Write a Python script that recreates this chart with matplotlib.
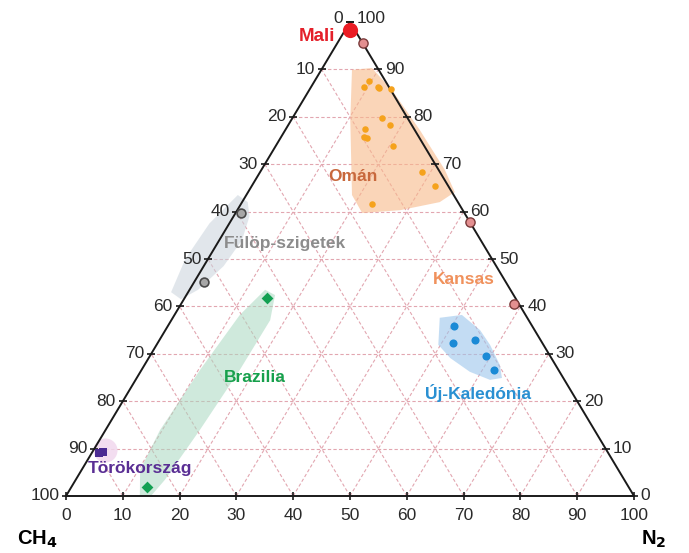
import numpy as np
import matplotlib
matplotlib.use("Agg")
import matplotlib.pyplot as plt
from matplotlib.patches import Polygon

plt.rcParams["font.family"] = ["Liberation Sans", "DejaVu Sans"]

# ternary data: n = N2 share (bottom axis), t = top component share (right axis)
mali_n = [0.8]
mali_t = [98.3]

kansas_n = [4.5, 42.2, 58.6]
kansas_t = [95.5, 57.8, 40.5]

fulop_n = [0.9, 1.8]
fulop_t = [59.7, 45.1]

brazil_n = [14.5, 13.3]
brazil_t = [41.8, 1.9]

turkey_n = [1.9, 1.2]
turkey_t = [9.3, 9.1]

oman_n = [9.6, 9.4, 11.8, 12.1, 14.3, 15.7, 14.0, 17.9, 14.6, 15.2, 20.6, 28.4, 32.3, 23.1]
oman_t = [87.6, 86.2, 86.2, 86.1, 85.8, 79.8, 77.4, 78.3, 75.7, 75.5, 73.8, 68.4, 65.5, 61.6]

newcal_n = [50.4, 52.0, 55.6, 59.2, 62.1]
newcal_t = [35.9, 32.3, 32.9, 29.5, 26.6]

# shaded field outlines
oman_area_n = [5.4, 8.7, 14.5, 23.7, 32.3, 36.4, 34.8, 28.7, 22.3, 18.6, 10.4]
oman_area_t = [89.9, 90.3, 85.7, 77.2, 68.8, 64.1, 62.0, 60.3, 59.7, 63.5, 79.3]
fulop_area_n = [-1.5, 1.0, 2.8, 4.0, 3.5, 1.5, -0.5, -3.0, -4.0, -3.5]
fulop_area_t = [63.5, 62.0, 59.0, 54.0, 48.5, 43.5, 41.5, 43.0, 50.0, 57.5]
brazil_area_n = [13.3, 15.6, 17.4, 17.3, 16.6, 15.7, 15.0, 12.9, 10.3, 9.6, 10.3, 11.5]
brazil_area_t = [43.5, 42.4, 37.1, 26.6, 13.9, 3.4, 0.2, 0.2, 5.5, 13.9, 26.6, 38.2]
newcal_area_n = [47.0, 50.6, 55.4, 58.7, 62.6, 64.3, 62.4, 58.0, 53.1, 49.6]
newcal_area_t = [37.6, 38.2, 35.0, 31.9, 27.6, 24.9, 24.5, 26.2, 29.1, 31.9]

ticks = list(range(0, 101, 10))


def tern(n, t):
    n = np.asarray(n, float) / 100
    t = np.asarray(t, float) / 100
    return n + t / 2, t


fig = plt.figure(figsize=(6.89, 5.53), dpi=100)
ax = fig.add_axes([66 / 689, 57 / 553, 568 / 689, 474 / 553])
ax.set_xlim(0, 1)
ax.set_ylim(0, 1)
ax.axis("off")

# grid
grid_kw = dict(color="#e2a6b0", lw=0.8, ls=(0, (3, 2)), zorder=1)
for v in ticks[1:-1]:
    x, y = tern([0, 100 - v], [v, v])
    ax.plot(x, y, **grid_kw)
    x, y = tern([v, v], [0, 100 - v])
    ax.plot(x, y, **grid_kw)
    x, y = tern([v, 0], [0, v])
    ax.plot(x, y, **grid_kw)

# shaded fields
def area(ns, ts, color, alpha):
    x, y = tern(ns, ts)
    ax.add_patch(Polygon(np.column_stack([x, y]), closed=True, fc=color,
                         ec="none", alpha=alpha, zorder=2, joinstyle="round"))

area(oman_area_n, oman_area_t, "#f8b98a", 0.6)
area(fulop_area_n, fulop_area_t, "#c9d3dc", 0.55)
area(brazil_area_n, brazil_area_t, "#a9d8c0", 0.55)
area(newcal_area_n, newcal_area_t, "#9cc6ec", 0.6)
tx, ty = tern([2.0], [9.8])
ax.scatter(tx, ty, s=300, color="#f1d8ee", alpha=0.85, zorder=2, lw=0)

# triangle frame
x, y = tern([0, 100, 0, 0], [0, 0, 100, 0])
ax.plot(x, y, color="#1a1a1a", lw=1.4, zorder=5, clip_on=False)

# ticks and labels
lab_kw = dict(fontsize=12.5, color="#2a2a2a", clip_on=False)
for v in ticks:
    # bottom axis
    x, y = tern([v], [0])
    ax.plot(x, y, marker="|", ms=6, mew=1.2, color="#1a1a1a", zorder=6, clip_on=False)
    ax.text(x[0], y[0] - 0.026, str(v), ha="center", va="top", **lab_kw)
    # left axis
    x, y = tern([0], [100 - v])
    dy = 0.008 if v == 0 else 0
    ax.plot(x, y, marker="_", ms=6, mew=1.2, color="#1a1a1a", zorder=6, clip_on=False)
    ax.text(x[0] - 0.012, y[0] + dy, str(v), ha="right", va="center", **lab_kw)
    # right axis
    x, y = tern([100 - v], [v])
    dy = 0.008 if v == 100 else 0
    ax.plot(x, y, marker="_", ms=6, mew=1.2, color="#1a1a1a", zorder=6, clip_on=False)
    ax.text(x[0] + 0.012, y[0] + dy, str(v), ha="left", va="center", **lab_kw)

# data points
def pts(ns, ts, **kw):
    x, y = tern(ns, ts)
    ax.scatter(x, y, zorder=7, clip_on=False, **kw)

pts(oman_n, oman_t, s=22, color="#f5a21c", lw=0)
pts(newcal_n, newcal_t, s=34, color="#1a8ad6", lw=0)
pts(brazil_n, brazil_t, s=36, marker="D", color="#12a052", lw=0)
pts(turkey_n, turkey_t, s=40, marker="s", color="#4b2a92", lw=0)
pts(fulop_n, fulop_t, s=40, color="#a7a7a7", edgecolors="#4a4a4a", lw=1.2)
pts(kansas_n, kansas_t, s=44, color="#e38f90", edgecolors="#7a3a3a", lw=1.0)
pts(mali_n, mali_t, s=120, color="#ea1c24", lw=0)

# group names
def name(n, t, s, c, size=12.5):
    x, y = tern([n], [t])
    ax.text(x[0], y[0], s, color=c, fontsize=size, fontweight="bold", zorder=8,
            clip_on=False, ha="center", va="center")

name(-4.3, 97.0, "Mali", "#e4202a", 13.5)
name(16.8, 67.5, "Omán", "#c8683c")
name(12.0, 53.2, "Fülöp-szigetek", "#8c8c8c")
name(47.3, 45.6, "Kansas", "#f0915c")
name(20.7, 25.1, "Brazilia", "#17a04c")
name(10.1, 5.9, "Törökország", "#5a2e94")
name(61.7, 21.7, "Új-Kaledónia", "#2a90d2")

fig.text(37 / 689, 1 - 539 / 553, r"CH$_\mathbf{4}$", fontsize=14.5, fontweight="bold",
         ha="center", va="center")
fig.text(654 / 689, 1 - 539 / 553, r"N$_\mathbf{2}$", fontsize=14.5, fontweight="bold",
         ha="center", va="center")

fig.savefig("out.png", dpi=100)
